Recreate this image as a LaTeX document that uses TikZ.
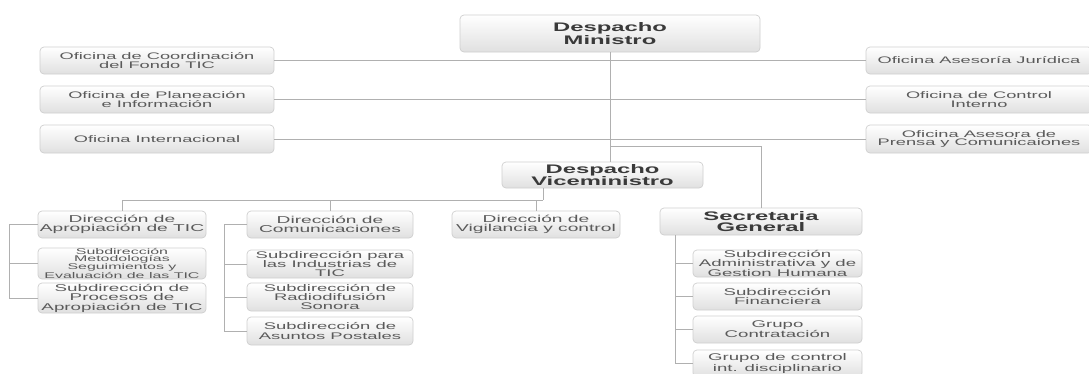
\documentclass[tikz,border=0pt]{standalone}
\usepackage{fontspec}
\newfontfamily\orgfont[FakeStretch=1.92]{Liberation Sans}
\usetikzlibrary{calc}
\definecolor{boxline}{HTML}{CFCFCF}
\definecolor{boxbot}{HTML}{E0E0E0}
\definecolor{linkgray}{HTML}{B0B0B0}
\definecolor{txtgray}{HTML}{5A5A5A}
\definecolor{txtdark}{HTML}{3A3A3A}

\tikzset{
  unit/.style={draw=boxline, line width=0.7pt, rounded corners=4pt,
    top color=white, bottom color=boxbot, text=txtgray, align=center,
    inner sep=0pt, font=\orgfont\fontsize{9.5}{8.8}\selectfont},
  head/.style={unit, text=txtdark, font=\orgfont\bfseries\fontsize{12.4}{11}\selectfont},
  dirbox/.style={unit, minimum width=168, minimum height=27,
    font=\orgfont\fontsize{10}{9.3}\selectfont},
  subbox/.style={unit, minimum width=168, minimum height=28,
    font=\orgfont\fontsize{9.6}{9.3}\selectfont},
  sgbox/.style={unit, minimum width=169, minimum height=27,
    font=\orgfont\fontsize{9.7}{8.6}\selectfont},
  ofbox/.style={unit, minimum width=234, minimum height=27},
  link/.style={draw=linkgray, line width=1pt},
}

\begin{document}
\begin{tikzpicture}[x=1pt, y=-1pt]
    \fill[white] (0,0) rectangle (1089,373);
    \useasboundingbox (0,0) rectangle (1089,373);

    % despachos
    \node[head, minimum width=300, minimum height=37] (min) at (610,33.5) {Despacho\\Ministro};
    \node[head, minimum width=201, minimum height=26] (vice) at (602.5,175) {Despacho\\Viceministro};
    \node[head, minimum width=202, minimum height=27] (sec) at (761,221.5) {Secretaria\\General};

    % oficinas
    \node[ofbox] (ofcF) at (157,60.5) {Oficina de Coordinación\\del Fondo TIC};
    \node[ofbox] (ofcP) at (157,99.5) {Oficina de Planeación\\e Información};
    \node[ofbox, minimum height=28] (ofcI) at (157,139) {Oficina Internacional};
    \node[ofbox, minimum width=226] (ofdJ) at (979,60.5) {Oficina Asesoría Jurídica};
    \node[ofbox, minimum width=226] (ofdC) at (979,99.5) {Oficina de Control\\Interno};
    \node[ofbox, minimum width=226, minimum height=28] (ofdP) at (979,139) {Oficina Asesora de\\Prensa y Comunicaiones};

    % direcciones
    \node[dirbox] (dirA) at (122,224.5) {Dirección de\\Apropiación de TIC};
    \node[dirbox, minimum width=166] (dirC) at (330,224.5) {Dirección de\\Comunicaciones};
    \node[dirbox] (dirV) at (536,224.5) {Dirección de\\Vigilancia y control};

    \node[subbox, minimum height=31, font=\orgfont\fontsize{8.3}{7}\selectfont] (subA1) at (122,263.5)
        {Subdirección\\Metodologías\\Seguimientos y\\Evaluación de las TIC};
    \node[subbox, minimum height=30, font=\orgfont\fontsize{9.8}{9.5}\selectfont] (subA2) at (122,298)
        {Subdirección de\\Procesos de\\Apropiación de TIC};

    \node[subbox, minimum width=166] (subC1) at (330,264) {Subdirección para\\las Industrias de\\TIC};
    \node[subbox, minimum width=166] (subC2) at (330,297) {Subdirección de\\Radiodifusión\\Sonora};
    \node[subbox, minimum width=166] (subC3) at (330,331) {Subdirección de\\Asuntos Postales};

    \node[sgbox] (subS1) at (777.5,263.5) {Subdirección\\Administrativa y de\\Gestion Humana};
    \node[sgbox] (subS2) at (777.5,296.5) {Subdirección\\Financiera};
    \node[sgbox] (subS3) at (777.5,329.5) {Grupo\\Contratación};
    \node[sgbox] (subS4) at (777.5,363.5) {Grupo de control\\int. disciplinario};

    % conectores
    \draw[link] (min.south) -- (min.south |- vice.north);
    \foreach \o in {ofcF,ofcP,ofcI}
        \draw[link] (\o.east) -- (\o.east -| min.south);
    \foreach \o in {ofdJ,ofdC,ofdP}
        \draw[link] (\o.west) -- (\o.west -| min.south);
    \coordinate (sgfeed) at (610,146);
    \draw[link] (sgfeed) -| (sec.north);

    \coordinate (vbus) at (543,200);
    \draw[link] (vbus |- vice.south) -- (vbus);
    \foreach \d in {dirA,dirC,dirV}
        \draw[link] (\d.north) |- (vbus);

    \coordinate (abus) at (9,0);
    \draw[link] (dirA.west) -- (dirA.west -| abus) |- (subA2.west);
    \draw[link] (subA1.west) -- (subA1.west -| abus);

    \coordinate (cbus) at (224,0);
    \draw[link] (dirC.west) -- (dirC.west -| cbus) |- (subC3.west);
    \foreach \s in {subC1,subC2}
        \draw[link] (\s.west) -- (\s.west -| cbus);

    \coordinate (sbus) at (675,0);
    \draw[link] (sbus |- sec.south) |- (subS4.west);
    \foreach \s in {subS1,subS2,subS3}
        \draw[link] (\s.west) -- (\s.west -| sbus);
\end{tikzpicture}
\end{document}
